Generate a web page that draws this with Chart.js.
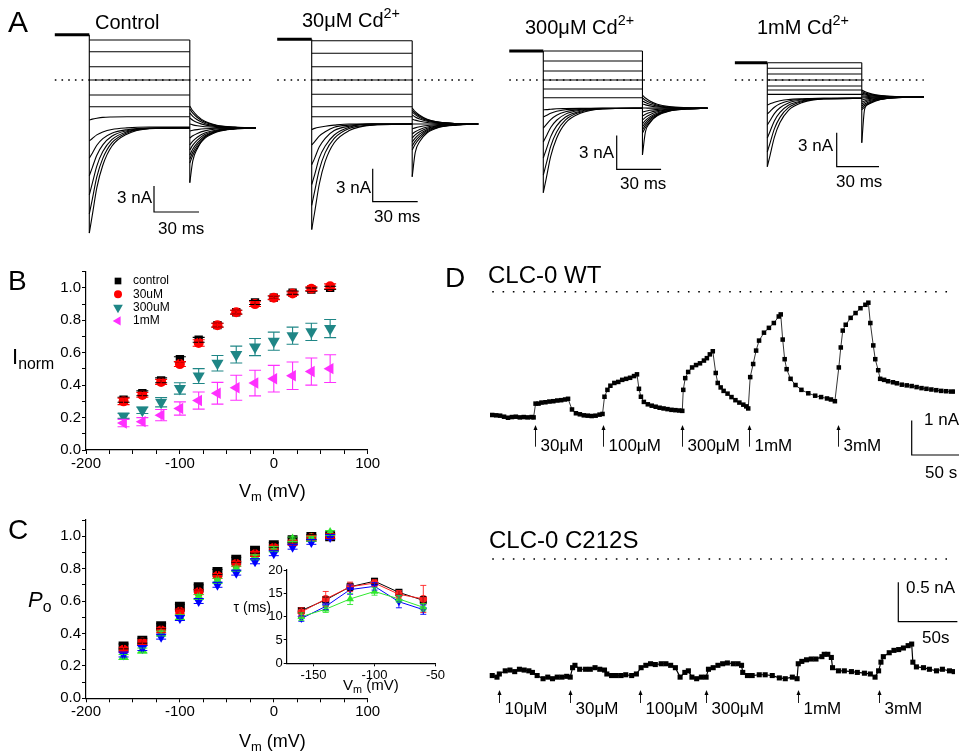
<!DOCTYPE html>
<html>
<head>
<meta charset="utf-8">
<title>Cd2+ inhibition of CLC-0</title>
<script src="https://cdn.jsdelivr.net/npm/chart.js@4.4.1/dist/chart.umd.min.js"></script>
<style>
  html, body { margin: 0; padding: 0; background: #fff; }
  #fig { position: relative; width: 959px; height: 751px; overflow: hidden;
         font-family: "Liberation Sans", Arial, sans-serif; color: #000; }
  #fig canvas { position: absolute; }
  .lbl { position: absolute; white-space: nowrap; line-height: 1; }
  .lbl sub, .lbl sup { font-size: 0.72em; position: relative; vertical-align: baseline; }
  .lbl sub { top: 0.3em; }
  .lbl sup { top: -0.6em; }
</style>
</head>
<body>
<div id="fig">
  <canvas id="traces" width="959" height="245" style="left:0;top:0"></canvas>
  <canvas id="ivPlot" width="400" height="260" style="left:0;top:250px"></canvas>
  <canvas id="poPlot" width="400" height="241" style="left:0;top:510px"></canvas>
  <canvas id="tauPlot" width="235" height="140" style="left:220px;top:560px"></canvas>
  <canvas id="timeCourse" width="519" height="501" style="left:440px;top:250px"></canvas>
</div>
<script>
// ---- A: current families (nA) ----
const holdTimes = [-23, 0];                       // ms
const pulseTimes = [0, 2, 5, 9, 15, 25, 40, 67];  // ms from pulse onset
const tailTimes = [0, 2, 5, 10, 18, 30, 44];      // ms after pulse offset
const holdCurrent = [5.2, 3.7, 2.57, 1.53];       // control, 30uM, 300uM, 1mM

// one row per test pulse; a single value means the current stays flat
const ctrlPulse = [
  [4.6], [3.25], [1.53], [0], [-1.72], [-3.07],
  [-4.6, -4.5, -4.4, -4.3, -4.25, -4.22, -4.22, -4.22],
  [-7.0, -6.73, -6.31, -5.97, -5.68, -5.5, -5.41, -5.4],
  [-9.0, -8.41, -7.5, -6.74, -6.11, -5.71, -5.53, -5.5],
  [-11.0, -10.07, -8.64, -7.45, -6.46, -5.83, -5.54, -5.5],
  [-13.2, -11.89, -9.89, -8.23, -6.85, -5.96, -5.56, -5.5],
  [-15.4, -13.72, -11.14, -9.01, -7.23, -6.09, -5.58, -5.5],
  [-17.6, -15.54, -12.4, -9.8, -7.62, -6.23, -5.6, -5.5]
];
const ctrlTail = [
  [-11.8, -9.3, -7.9, -6.6, -5.9, -5.6, -5.5],
  [-9.54, -8.65, -7.72, -6.71, -5.98, -5.62, -5.5],
  [-9.08, -8.29, -7.47, -6.57, -5.93, -5.61, -5.5],
  [-8.62, -7.93, -7.22, -6.44, -5.87, -5.59, -5.5],
  [-8.05, -7.49, -6.9, -6.27, -5.81, -5.58, -5.5],
  [-7.47, -7.04, -6.58, -6.09, -5.74, -5.56, -5.5],
  [-6.67, -6.41, -6.14, -5.85, -5.64, -5.54, -5.5],
  [-5.86, -5.78, -5.7, -5.61, -5.54, -5.51, -5.5],
  [-5.06, -5.16, -5.26, -5.37, -5.45, -5.49, -5.5],
  [-4.37, -4.62, -4.88, -5.16, -5.36, -5.47, -5.5],
  [-3.79, -4.17, -4.56, -4.99, -5.29, -5.45, -5.5],
  [-3.33, -3.81, -4.31, -4.85, -5.24, -5.43, -5.5],
  [-2.99, -3.54, -4.12, -4.75, -5.2, -5.42, -5.5]
];
const cd30Pulse = [
  [3.57], [2.43], [1.21], [0], [-1.3], [-2.43], [-3.34],
  [-4.5, -4.4, -4.3, -4.2, -4.1, -4.0, -4.0, -4.0],
  [-5.9, -5.6, -5.1, -4.7, -4.3, -4.1, -4.0, -4.0],
  [-7.7, -7.1, -6.1, -5.3, -4.6, -4.2, -4.0, -4.0],
  [-9.5, -8.6, -7.1, -6.0, -5.0, -4.3, -4.0, -4.0],
  [-11.4, -10.1, -8.2, -6.6, -5.3, -4.4, -4.1, -4.0],
  [-13.6, -12.0, -9.5, -7.4, -5.7, -4.6, -4.1, -4.0]
];
const cd30Tail = [
  [-8.8, -6.6, -5.6, -4.8, -4.3, -4.1, -4.0],
  [-6.36, -5.84, -5.3, -4.71, -4.28, -4.07, -4.0],
  [-6.0, -5.56, -5.1, -4.6, -4.24, -4.06, -4.0],
  [-5.64, -5.28, -4.9, -4.49, -4.2, -4.05, -4.0],
  [-5.27, -4.99, -4.7, -4.38, -4.15, -4.04, -4.0],
  [-4.91, -4.71, -4.5, -4.27, -4.11, -4.03, -4.0],
  [-4.45, -4.35, -4.25, -4.14, -4.05, -4.01, -4.0],
  [-4.0, -4.0, -4.0, -4.0, -4.0, -4.0, -4.0],
  [-3.55, -3.65, -3.75, -3.87, -3.95, -3.99, -4.0],
  [-3.18, -3.36, -3.55, -3.75, -3.9, -3.98, -4.0],
  [-2.91, -3.15, -3.4, -3.67, -3.87, -3.97, -4.0],
  [-2.73, -3.01, -3.3, -3.62, -3.85, -3.96, -4.0],
  [-2.55, -2.87, -3.2, -3.57, -3.83, -3.96, -4.0]
];
const cd300Pulse = [
  [2.57], [1.68], [0.8], [0], [-0.8], [-1.57],
  [-2.65, -2.62, -2.59, -2.55, -2.53, -2.51, -2.5, -2.5],
  [-3.27, -3.14, -2.94, -2.77, -2.63, -2.55, -2.51, -2.5],
  [-4.25, -3.95, -3.5, -3.12, -2.81, -2.61, -2.51, -2.5],
  [-5.49, -4.98, -4.2, -3.56, -3.02, -2.68, -2.52, -2.5],
  [-6.9, -6.15, -5.01, -4.06, -3.27, -2.76, -2.54, -2.5],
  [-8.41, -7.41, -5.87, -4.6, -3.53, -2.85, -2.55, -2.5],
  [-9.97, -8.7, -6.76, -5.15, -3.81, -2.95, -2.56, -2.5]
];
const cd300Tail = [
  [-6.64, -4.6, -3.8, -3.1, -2.7, -2.55, -2.5],
  [-4.69, -4.21, -3.7, -3.16, -2.76, -2.57, -2.5],
  [-4.42, -4.0, -3.56, -3.08, -2.73, -2.56, -2.5],
  [-4.16, -3.79, -3.41, -3.0, -2.7, -2.55, -2.5],
  [-3.89, -3.58, -3.26, -2.92, -2.67, -2.54, -2.5],
  [-3.54, -3.31, -3.07, -2.81, -2.62, -2.53, -2.5],
  [-3.19, -3.04, -2.88, -2.71, -2.58, -2.52, -2.5],
  [-2.83, -2.76, -2.68, -2.6, -2.54, -2.51, -2.5],
  [-2.48, -2.48, -2.49, -2.49, -2.5, -2.5, -2.5],
  [-2.12, -2.2, -2.29, -2.39, -2.45, -2.49, -2.5],
  [-1.86, -2.0, -2.15, -2.31, -2.42, -2.48, -2.5],
  [-1.59, -1.79, -2.0, -2.23, -2.39, -2.47, -2.5],
  [-1.33, -1.59, -1.86, -2.15, -2.36, -2.46, -2.5]
];
const cd1mPulse = [
  [1.53], [1.04], [0.53], [0], [-0.53], [-0.88], [-1.27],
  [-2.21, -2.11, -1.96, -1.83, -1.72, -1.66, -1.62, -1.62],
  [-3.01, -2.77, -2.41, -2.11, -1.86, -1.7, -1.63, -1.62],
  [-3.98, -3.58, -2.97, -2.46, -2.03, -1.76, -1.64, -1.62],
  [-5.13, -4.53, -3.62, -2.87, -2.23, -1.83, -1.65, -1.62],
  [-6.37, -5.56, -4.33, -3.31, -2.45, -1.9, -1.66, -1.62],
  [-7.67, -6.64, -5.07, -3.77, -2.68, -1.98, -1.67, -1.62]
];
const cd1mTail = [
  [-5.55, -2.6, -2.1, -1.8, -1.6, -1.52, -1.5],
  [-2.65, -2.4, -2.13, -1.85, -1.64, -1.53, -1.5],
  [-2.48, -2.26, -2.04, -1.79, -1.62, -1.53, -1.5],
  [-2.3, -2.12, -1.94, -1.74, -1.6, -1.52, -1.5],
  [-2.12, -1.98, -1.84, -1.69, -1.57, -1.52, -1.5],
  [-1.95, -1.85, -1.75, -1.64, -1.55, -1.51, -1.5],
  [-1.77, -1.71, -1.65, -1.58, -1.53, -1.51, -1.5],
  [-1.59, -1.57, -1.55, -1.53, -1.51, -1.5, -1.5],
  [-1.42, -1.44, -1.46, -1.48, -1.49, -1.5, -1.5],
  [-1.28, -1.33, -1.38, -1.43, -1.47, -1.49, -1.5],
  [-1.15, -1.23, -1.31, -1.4, -1.46, -1.49, -1.5],
  [-1.02, -1.13, -1.24, -1.36, -1.44, -1.49, -1.5],
  [-0.88, -1.02, -1.16, -1.31, -1.43, -1.48, -1.5]
];

// ---- B / C: steady-state curves ----
const vSteps = [-160, -140, -120, -100, -80, -60, -40, -20, 0, 20, 40, 60];
const iNormControl = [0.31, 0.35, 0.43, 0.56, 0.68, 0.77, 0.85, 0.91, 0.94, 0.97, 0.99, 1.0];
const iNormControlErr = [0.015, 0.015, 0.015, 0.015, 0.015, 0.012, 0.012, 0.012, 0.01, 0.01, 0.01, 0.01];
const iNorm30uM = [0.30, 0.34, 0.42, 0.53, 0.66, 0.77, 0.85, 0.90, 0.94, 0.965, 0.995, 1.01];
const iNorm30uMErr = [0.02, 0.015, 0.015, 0.015, 0.02, 0.012, 0.012, 0.015, 0.012, 0.01, 0.012, 0.015];
const iNorm300uM = [0.21, 0.245, 0.295, 0.38, 0.456, 0.535, 0.589, 0.635, 0.671, 0.705, 0.729, 0.749];
const iNorm300uMErr = [0.015, 0.02, 0.029, 0.035, 0.046, 0.048, 0.052, 0.053, 0.056, 0.053, 0.053, 0.056];
const iNorm1mM = [0.166, 0.175, 0.215, 0.256, 0.305, 0.35, 0.384, 0.413, 0.44, 0.458, 0.484, 0.502];
const iNorm1mMErr = [0.023, 0.025, 0.035, 0.041, 0.053, 0.067, 0.077, 0.079, 0.082, 0.085, 0.084, 0.086];

const poControl = [0.32, 0.355, 0.445, 0.565, 0.685, 0.78, 0.855, 0.91, 0.945, 0.975, 0.995, 1.0];
const po30uM = [0.30, 0.345, 0.42, 0.535, 0.655, 0.755, 0.83, 0.89, 0.93, 0.96, 0.99, 1.0];
const po300uM = [0.255, 0.295, 0.40, 0.50, 0.625, 0.725, 0.80, 0.87, 0.92, 0.98, 0.985, 1.02];
const po1mM = [0.27, 0.31, 0.38, 0.495, 0.60, 0.70, 0.775, 0.845, 0.895, 0.935, 0.965, 0.995];
const poErr = [0.015, 0.015, 0.015, 0.015, 0.015, 0.015, 0.015, 0.015, 0.015, 0.015, 0.015, 0.015];

// inset: deactivation time constant (ms)
const tauV = [-160, -140, -120, -100, -80, -60];
const tauTicks = [-150, -100, -50];
const tauControl = [11.3, 13.6, 16.4, 17.6, 15.2, 13.5];
const tauControlErr = [0.5, 0.6, 0.8, 0.6, 0.6, 0.8];
const tau30uM = [11.0, 13.8, 16.4, 17.2, 14.8, 13.8];
const tau30uMErr = [0.9, 1.6, 1.0, 0.7, 0.8, 2.9];
const tau300uM = [10.0, 11.6, 13.8, 15.4, 13.8, 12.0];
const tau300uMErr = [0.8, 0.7, 1.2, 0.8, 0.7, 0.8];
const tau1mM = [9.6, 12.2, 15.8, 16.5, 13.2, 11.5];
const tau1mMErr = [0.6, 0.7, 1.0, 0.8, 1.3, 1.0];

// ---- D: current during Cd2+ applications ----
const wtTime = [0, 4, 8, 12, 16, 20, 24, 28, 32, 36, 40, 42,
  44, 47, 50, 54, 58, 62, 66, 70, 74, 77,
  81, 85, 89, 93, 97, 101, 105, 109, 112,
  114, 117, 120, 124, 128, 132, 136, 140, 144, 147,
  149, 151, 154, 158, 162, 166, 170, 174, 178, 182, 186, 190, 193,
  194, 196, 199, 203, 207, 211, 215, 218, 221, 224,
  227, 229, 232, 235, 239, 243, 247, 251, 255, 258, 260,
  262, 265, 268, 271, 276, 281, 286, 291, 293,
  295, 297, 299, 303, 308, 314, 321, 328, 334, 340, 344, 348,
  352, 354, 356, 359, 364, 369, 374, 379, 382,
  384, 387, 389, 392, 394, 398, 402, 407, 411, 416, 421, 426, 431, 436, 441, 446, 451, 456, 461, 466, 470];
const wtCurrent = [-3.58, -3.59, -3.6, -3.63, -3.66, -3.64, -3.63, -3.65, -3.64, -3.65, -3.64, -3.65,
  -3.25, -3.25, -3.22, -3.21, -3.19, -3.18, -3.16, -3.15, -3.13, -3.11,
  -3.42, -3.53, -3.56, -3.59, -3.6, -3.61, -3.6, -3.57, -3.55,
  -3.05, -2.85, -2.73, -2.65, -2.62, -2.56, -2.53, -2.5, -2.45, -2.4,
  -2.82, -3.05, -3.2, -3.27, -3.31, -3.34, -3.37, -3.39, -3.41, -3.43, -3.44, -3.45, -3.46,
  -2.85, -2.51, -2.33, -2.2, -2.13, -2.08, -2.0, -1.93, -1.82, -1.73,
  -2.36, -2.65, -2.78, -2.88, -2.96, -3.06, -3.15, -3.22, -3.28, -3.33, -3.39,
  -2.48, -2.1, -1.71, -1.42, -1.19, -1.05, -0.91, -0.72, -0.66,
  -1.39, -1.96, -2.25, -2.53, -2.71, -2.85, -2.95, -3.02, -3.06, -3.1, -3.13, -3.18,
  -2.2, -1.62, -1.13, -0.96, -0.76, -0.62, -0.48, -0.38, -0.32,
  -0.91, -1.56, -1.96, -2.28, -2.53, -2.56, -2.6, -2.63, -2.66, -2.7, -2.72, -2.74, -2.77, -2.8, -2.82, -2.84, -2.86, -2.88, -2.89, -2.9, -2.9];
const wtDoseTimes = [43, 112, 193, 261, 351];
const wtDoses = ['30μM', '100μM', '300μM', '1mM', '3mM'];

const mutTime = [0, 4, 6, 11, 15, 19, 23, 27, 31, 34, 38, 43, 47, 51, 55, 59, 63, 66,
  68, 70, 74, 79, 83, 87, 91, 95, 97, 101, 105, 109, 113, 118, 122,
  126, 130, 134, 138, 143, 147, 151, 155, 159, 163, 166, 169, 173, 177, 181,
  183, 187, 191, 195, 199, 204, 208, 211, 212, 216, 220, 226, 231, 237, 243, 248, 254, 258,
  259, 262, 266, 270, 274, 279, 281, 284, 287, 288, 293, 298, 304, 309, 315, 320, 324,
  327, 329, 331, 336, 340, 344, 348, 352, 355, 356, 359, 365, 370, 376, 381, 387, 391];
const mutCurrent = [-1.48, -1.5, -1.46, -1.42, -1.41, -1.43, -1.4, -1.41, -1.42, -1.44, -1.48, -1.52, -1.5, -1.52, -1.5, -1.5, -1.49, -1.5,
  -1.38, -1.35, -1.4, -1.4, -1.4, -1.38, -1.4, -1.41, -1.46, -1.48, -1.48, -1.48, -1.47, -1.48, -1.46,
  -1.38, -1.35, -1.33, -1.34, -1.33, -1.33, -1.35, -1.38, -1.5, -1.44, -1.42, -1.5, -1.52, -1.5, -1.5,
  -1.4, -1.38, -1.35, -1.33, -1.32, -1.33, -1.33, -1.35, -1.44, -1.48, -1.48, -1.47, -1.47, -1.48, -1.51, -1.52, -1.5, -1.52,
  -1.33, -1.3, -1.28, -1.27, -1.27, -1.24, -1.21, -1.21, -1.25, -1.38, -1.42, -1.42, -1.43, -1.44, -1.45, -1.46, -1.5,
  -1.42, -1.31, -1.24, -1.19, -1.16, -1.15, -1.13, -1.1, -1.08, -1.31, -1.37, -1.38, -1.4, -1.42, -1.4, -1.42, -1.43];
const mutDoseTimes = [6, 66, 125, 181, 259, 327];
const mutDoses = ['10μM', '30μM', '100μM', '300μM', '1mM', '3mM'];

// ------------------------------------------------------------
const FONT = '"Liberation Sans", Arial, sans-serif';
Chart.defaults.font.family = FONT;
Chart.defaults.color = '#000';
Chart.defaults.animation = false;
Chart.defaults.responsive = false;
Chart.defaults.plugins.legend.display = false;
Chart.defaults.plugins.tooltip.enabled = false;

const pts = (xs, ys) => xs.map((x, i) => ({ x, y: ys[i] }));

// hidden linear scales: value 0 at pixel p0, k pixels per unit
function spanX(p0, k, size) { return { type: 'linear', display: false, min: -p0 / k, max: (size - p0) / k }; }
function spanY(p0, k, size) { return { type: 'linear', display: false, min: -(size - p0) / k, max: p0 / k }; }

function scaleBars(bars) {
  return {
    id: 'scaleBars',
    afterDatasetsDraw(chart) {
      const ctx = chart.ctx;
      ctx.save();
      ctx.strokeStyle = '#000';
      ctx.lineWidth = 1.2;
      bars.forEach(b => {
        const xs = chart.scales[b.x], ys = chart.scales[b.y];
        const w = xs.getPixelForValue(b.dx) - xs.getPixelForValue(0);
        const h = ys.getPixelForValue(0) - ys.getPixelForValue(b.dy);
        ctx.beginPath();
        ctx.moveTo(b.at[0], b.at[1] - h);
        ctx.lineTo(b.at[0], b.at[1]);
        ctx.lineTo(b.at[0] + w, b.at[1]);
        ctx.stroke();
      });
      ctx.restore();
    }
  };
}

function errorBars(capHalf, width) {
  return {
    id: 'errorBars',
    afterDatasetsDraw(chart) {
      const ctx = chart.ctx;
      ctx.save();
      ctx.lineWidth = width;
      chart.getSortedVisibleDatasetMetas().slice().reverse().forEach(meta => {
        const ds = chart.data.datasets[meta.index];
        if (!ds.errors) return;
        const ys = chart.scales[meta.yAxisID];
        ctx.strokeStyle = ds.borderColor;
        meta.data.forEach((p, i) => {
          const v = ds.data[i].y, e = ds.errors[i];
          const top = ys.getPixelForValue(v + e), bot = ys.getPixelForValue(v - e);
          ctx.beginPath();
          ctx.moveTo(p.x, top); ctx.lineTo(p.x, bot);
          ctx.moveTo(p.x - capHalf, top); ctx.lineTo(p.x + capHalf, top);
          ctx.moveTo(p.x - capHalf, bot); ctx.lineTo(p.x + capHalf, bot);
          ctx.stroke();
        });
      });
      ctx.restore();
    }
  };
}

// left/bottom axis, ticks outward, labels only on every `every`
function plotAxis(min, max, step, every, fmt, fit, size) {
  return {
    type: 'linear', min, max,
    border: { display: true, color: '#000', width: 1.2 },
    grid: { display: true, drawOnChartArea: false, drawTicks: true, tickLength: 4, color: '#000' },
    ticks: {
      stepSize: step, autoSkip: false, maxRotation: 0, padding: 1, color: '#000',
      font: { size: size || 15 },
      callback: v => Math.abs(v / every - Math.round(v / every)) < 1e-6 ? fmt(v) : ''
    },
    afterFit: fit
  };
}

// ---- A ----
const families = [[ctrlPulse, ctrlTail], [cd30Pulse, cd30Tail], [cd300Pulse, cd300Tail], [cd1mPulse, cd1mTail]];
const familyLayout = [
  { x0: 89.3, msPx: 1.5, y0: 80, nAPx: 8.7, bar: [154, 212] },
  { x0: 311.7, msPx: 1.5, y0: 80, nAPx: 11, bar: [372.7, 201.7] },
  { x0: 543.3, msPx: 1.48, y0: 80, nAPx: 11.3, bar: [616.7, 169.3] },
  { x0: 767.3, msPx: 1.41, y0: 80, nAPx: 11.3, bar: [836.7, 166.7] }
];
const pulseEnd = pulseTimes[pulseTimes.length - 1];
const tailEnd = pulseEnd + tailTimes[tailTimes.length - 1];

function familyDatasets(g) {
  const xID = 'x' + g, yID = 'y' + g;
  const [pulse, tail] = families[g];
  const hold = holdCurrent[g];
  const line = (data, extra) => Object.assign({
    data, xAxisID: xID, yAxisID: yID, borderColor: '#000', borderWidth: 1.1,
    pointRadius: 0, fill: false
  }, extra);
  const rows = pulse.map(r => r.length === 1 ? pulseTimes.map(() => r[0]) : r);
  const sets = [];
  sets.push(line([{ x: holdTimes[0], y: 0 }, { x: tailEnd, y: 0 }], { borderDash: [1.6, 5.1], borderWidth: 1.6 }));
  sets.push(line(pts(holdTimes, holdTimes.map(() => hold)), { borderWidth: 3 }));
  rows.forEach(r => sets.push(line(pts(pulseTimes, r), { cubicInterpolationMode: 'monotone' })));
  tail.forEach(r => sets.push(line(pts(tailTimes.map(t => pulseEnd + t), r), { cubicInterpolationMode: 'monotone' })));
  // voltage steps: vertical jumps at onset and offset
  const onset = rows.map(r => r[0]);
  const offset = rows.map(r => r[r.length - 1]);
  const tailStart = tail.map(r => r[0]);
  sets.push(line([{ x: 0, y: Math.max(hold, ...onset) }, { x: 0, y: Math.min(...onset) }]));
  sets.push(line([{ x: pulseEnd, y: Math.max(...offset) }, { x: pulseEnd, y: Math.min(...tailStart) }]));
  return sets;
}

const traceScales = {};
familyLayout.forEach((f, g) => {
  traceScales['x' + g] = spanX(f.x0, f.msPx, 959);
  traceScales['y' + g] = spanY(f.y0, f.nAPx, 245);
});

new Chart(document.getElementById('traces'), {
  type: 'line',
  data: { datasets: families.flatMap((_, g) => familyDatasets(g)) },
  options: { layout: { padding: 0 }, scales: traceScales },
  plugins: [scaleBars(familyLayout.map((f, g) => ({ x: 'x' + g, y: 'y' + g, dx: 30, dy: 3, at: f.bar })))]
});

// ---- B ----
const TEAL = '#1f8686', MAGENTA = '#ff30ff';
const ivLegend = {
  id: 'ivLegend',
  afterDraw(chart) {
    const ctx = chart.ctx;
    ctx.save();
    ctx.font = '12px ' + FONT;
    ctx.textBaseline = 'middle';
    chart.data.datasets.forEach((ds, i) => {
      const y = 31 + i * 13.3;
      ctx.fillStyle = ds.backgroundColor;
      Chart.helpers.drawPoint(ctx, {
        pointStyle: ds.pointStyle, rotation: ds.pointRotation || 0,
        radius: ds.pointRadius * 0.8, borderWidth: 0
      }, 118, y);
      ctx.fillStyle = '#000';
      ctx.fillText(ds.label, 133, y);
    });
    ctx.restore();
  }
};

const vAxis = (h) => plotAxis(-200, 100, 25, 100, v => String(v), s => { s.height = h; });
const fracAxis = () => plotAxis(0, 1.1, 0.1, 0.2, v => v.toFixed(1), s => { s.width = 86; });

new Chart(document.getElementById('ivPlot'), {
  type: 'scatter',
  data: {
    datasets: [
      { label: 'control', data: pts(vSteps, iNormControl), errors: iNormControlErr, pointStyle: 'rect',
        pointRadius: 5.9, backgroundColor: '#000', borderColor: '#000', pointBorderWidth: 0, order: 4 },
      { label: '30uM', data: pts(vSteps, iNorm30uM), errors: iNorm30uMErr, pointStyle: 'circle',
        pointRadius: 5, backgroundColor: '#ff0000', borderColor: '#ff0000', pointBorderWidth: 0, order: 3 },
      { label: '300uM', data: pts(vSteps, iNorm300uM), errors: iNorm300uMErr, pointStyle: 'triangle', pointRotation: 180,
        pointRadius: 7, backgroundColor: TEAL, borderColor: TEAL, pointBorderWidth: 0, order: 2 },
      { label: '1mM', data: pts(vSteps, iNorm1mM), errors: iNorm1mMErr, pointStyle: 'triangle', pointRotation: -90,
        pointRadius: 6.6, backgroundColor: MAGENTA, borderColor: MAGENTA, pointBorderWidth: 0, order: 1 }
    ]
  },
  options: {
    layout: { padding: { top: 21.7, right: 32.3, left: 0, bottom: 0 } },
    scales: { x: vAxis(60), y: fracAxis() }
  },
  plugins: [errorBars(6, 1.1), ivLegend]
});

// ---- C ----
const GREEN = '#2fe82f', BLUE = '#0000ff';
new Chart(document.getElementById('poPlot'), {
  type: 'scatter',
  data: {
    datasets: [
      { data: pts(vSteps, poControl), errors: poErr, pointStyle: 'rect', pointRadius: 7,
        backgroundColor: '#000', borderColor: '#000', pointBorderWidth: 0, order: 4 },
      { data: pts(vSteps, po30uM), errors: poErr, pointStyle: 'circle', pointRadius: 4.8,
        backgroundColor: '#ff0000', borderColor: '#ff0000', pointBorderWidth: 0, order: 3 },
      { data: pts(vSteps, po300uM), errors: poErr, pointStyle: 'triangle', pointRadius: 6,
        backgroundColor: GREEN, borderColor: GREEN, pointBorderWidth: 0, order: 2 },
      { data: pts(vSteps, po1mM), errors: poErr, pointStyle: 'triangle', pointRotation: 180, pointRadius: 6,
        backgroundColor: BLUE, borderColor: BLUE, pointBorderWidth: 0, order: 1 }
    ]
  },
  options: {
    layout: { padding: { top: 10, right: 32.3, left: 0, bottom: 0 } },
    scales: { x: vAxis(52.7), y: fracAxis() }
  },
  plugins: [errorBars(5, 1)]
});

// inset: tau vs voltage
const tauSet = (ys, errs, color, style, rot, r, ord) => ({
  data: pts(tauV, ys), errors: errs, showLine: true, borderWidth: 1, borderColor: color,
  backgroundColor: color, pointStyle: style, pointRotation: rot, pointRadius: r, pointBorderWidth: 0, order: ord
});
const tauX = plotAxis(-172, -50, 50, 50, v => String(v), s => { s.height = 36.7; }, 13);
tauX.afterBuildTicks = s => { s.ticks = tauTicks.map(value => ({ value })); };
tauX.grid.tickLength = 3;
const tauY = plotAxis(0, 20, 5, 5, v => String(v), s => { s.width = 66.7; }, 13);
tauY.grid.tickLength = 3;

new Chart(document.getElementById('tauPlot'), {
  type: 'scatter',
  data: {
    datasets: [
      tauSet(tauControl, tauControlErr, '#000', 'rect', 0, 5, 4),
      tauSet(tau30uM, tau30uMErr, '#ff2020', 'circle', 0, 3.8, 3),
      tauSet(tau300uM, tau300uMErr, GREEN, 'triangle', 0, 4.5, 1),
      tauSet(tau1mM, tau1mMErr, BLUE, 'triangle', 180, 4.5, 2)
    ]
  },
  options: {
    layout: { padding: { top: 10, right: 19.5, left: 0, bottom: 0 } },
    scales: { x: tauX, y: tauY }
  },
  plugins: [errorBars(3, 0.9)]
});

// ---- D ----
function doseArrows(xID, times, names, tipY, baseY, textY) {
  return {
    id: 'doses-' + xID,
    afterDatasetsDraw(chart) {
      const ctx = chart.ctx, xs = chart.scales[xID];
      ctx.save();
      ctx.strokeStyle = '#000';
      ctx.fillStyle = '#000';
      ctx.lineWidth = 0.9;
      ctx.font = '17px ' + FONT;
      ctx.textBaseline = 'middle';
      times.forEach((t, i) => {
        const x = Math.round(xs.getPixelForValue(t)) + 0.5;
        ctx.beginPath();
        ctx.moveTo(x, baseY);
        ctx.lineTo(x, tipY + 3);
        ctx.stroke();
        ctx.beginPath();
        ctx.moveTo(x, tipY);
        ctx.lineTo(x - 2, tipY + 5);
        ctx.lineTo(x + 2, tipY + 5);
        ctx.closePath();
        ctx.fill();
        ctx.fillText(names[i], x + 5, textY);
      });
      ctx.restore();
    }
  };
}

const zeroLine = (times, xID, yID) => ({
  data: [{ x: times[0], y: 0 }, { x: times[times.length - 1], y: 0 }], xAxisID: xID, yAxisID: yID,
  borderColor: '#000', borderWidth: 1.6, borderDash: [1.6, 8.7], pointRadius: 0
});
const trace = (ts, ys, xID, yID, r, w) => ({
  data: pts(ts, ys), xAxisID: xID, yAxisID: yID, borderColor: '#000', borderWidth: w,
  pointStyle: 'rect', pointRadius: r, backgroundColor: '#000', pointBorderWidth: 0
});

new Chart(document.getElementById('timeCourse'), {
  type: 'line',
  data: {
    datasets: [
      zeroLine(wtTime, 'xw', 'yw'),
      trace(wtTime, wtCurrent, 'xw', 'yw', 3.2, 0.8),
      zeroLine(mutTime, 'xm', 'ym'),
      trace(mutTime, mutCurrent, 'xm', 'ym', 3.6, 1.2)
    ]
  },
  options: {
    layout: { padding: 0 },
    scales: {
      xw: spanX(49, 1, 519), yw: spanY(38.3, 35, 501),
      xm: spanX(49, 1.2, 519), ym: spanY(310, 80, 501)
    }
  },
  plugins: [
    scaleBars([
      { x: 'xw', y: 'yw', dx: 50, dy: 1, at: [471.7, 205] },
      { x: 'xm', y: 'ym', dx: 50, dy: 0.5, at: [458.3, 371.7] }
    ]),
    doseArrows('xw', wtDoseTimes, wtDoses, 175, 196.7, 196),
    doseArrows('xm', mutDoseTimes, mutDoses, 440, 453, 459)
  ]
});

// ---- text ----
const fig = document.getElementById('fig');
const texts = [
  ['A', 8, 22, 30], ['Control', 95, 22, 20], ['30μM Cd<sup>2+</sup>', 302, 20, 20],
  ['300μM Cd<sup>2+</sup>', 525, 27, 20], ['1mM Cd<sup>2+</sup>', 757, 27, 20],
  ['3 nA', 152, 197, 17, 'r'], ['30 ms', 158, 228, 17],
  ['3 nA', 371, 187, 17, 'r'], ['30 ms', 374, 216, 17],
  ['3 nA', 614, 152, 17, 'r'], ['30 ms', 620, 183, 17],
  ['3 nA', 833, 145, 17, 'r'], ['30 ms', 836, 181, 17],
  ['B', 8, 281, 28], ['I<sub>norm</sub>', 12, 357, 22], ['V<sub>m</sub> (mV)', 239, 491, 18],
  ['C', 8, 530, 28], ['<i>P</i><sub>o</sub>', 28, 600, 22], ['V<sub>m</sub> (mV)', 239, 741, 18],
  ['τ (ms)', 271, 607, 14, 'r'], ['V<sub>m</sub> (mV)', 343, 684, 15],
  ['D', 445, 278, 28], ['CLC-0 WT', 488, 275, 24], ['1 nA', 924, 419, 17], ['50 s', 925, 472, 17],
  ['CLC-0 C212S', 489, 540, 24], ['0.5 nA', 906, 587, 17], ['50s', 922, 637, 17]
];
texts.forEach(([html, x, y, size, align]) => {
  const d = document.createElement('div');
  d.className = 'lbl';
  d.innerHTML = html;
  d.style.left = x + 'px';
  d.style.top = y + 'px';
  d.style.fontSize = size + 'px';
  d.style.transform = 'translate(' + (align === 'r' ? '-100%' : '0') + ', -50%)';
  fig.appendChild(d);
});
</script>
</body>
</html>
